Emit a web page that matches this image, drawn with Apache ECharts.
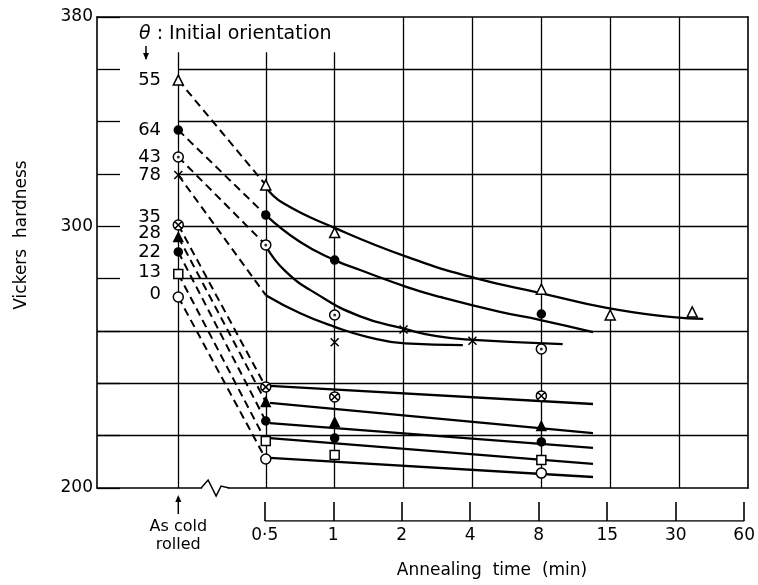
<!DOCTYPE html>
<html>
<head>
<meta charset="utf-8">
<title>Vickers hardness - annealing time</title>
<script src="https://cdn.jsdelivr.net/npm/echarts@6/dist/echarts.min.js"></script>
<style>
    html, body { margin: 0; padding: 0; background: #fff; }
    #chart { width: 758px; height: 585px; }
</style>
</head>
<body>
<div id="chart"></div>
<script>
    // x is in doubling steps of annealing time: 0.5 min -> -1, 1 -> 0, 2 -> 1 ... 60 -> 6
    var xCold = -2.27;
    var tickPos = [-1, 0, 1, 2, 3, 4, 5, 6];
    var tickLabels = ['0·5', '1', '2', '4', '8', '15', '30', '60'];
    var gridPart = [360, 340, 320, 300, 280];
    var gridFull = [260, 240, 220];
    var vShort = [xCold, -1, 0];
    var vFull = [1, 2, 3, 4, 5];

    // initial orientation of each specimen
    var orientations = ['55', '64', '43', '78', '35', '28', '22', '13', '0'];
    var coldRolled = [355.9, 336.8, 326.5, 319.6, 300.5, 295.9, 290.2, 281.8, 273.0];
    var atHalfMin = [315.8, 304.3, 292.9, 273.7, 238.6, 232.9, 225.6, 218.0, 211.1];

    // measured points after annealing [x, HV]
    var pts55 = [[-1, 315.8], [0, 297.6], [3, 276.0], [4, 266.1], [5.19, 267.3]];
    var pts64 = [[-1, 304.3], [0, 287.1], [3, 266.5]];
    var pts43 = [[-1, 292.9], [0, 266.1], [3, 253.1]];
    var pts78 = [[0, 255.7], [1, 260.6], [2, 256.3]];
    var pts35 = [[-1, 238.6], [0, 234.8], [3, 235.2]];
    var pts28 = [[-1, 232.9], [0, 225.2], [3, 223.7]];
    var pts22 = [[-1, 225.6], [0, 219.1], [3, 217.6]];
    var pts13 = [[-1, 218.0], [0, 212.6], [3, 210.7]];
    var pts0 = [[-1, 211.1], [3, 205.7]];

    // drawn-in curves
    var fit55 = [[-1, 315.0], [-0.75, 308.9], [0, 299.4], [1.05, 288.3], [2.04, 280.2], [2.99, 274.5], [3.95, 268.8], [4.91, 265.3], [5.35, 264.6]];
    var fit64 = [[-1, 304.3], [-0.5, 294.0], [0, 287.1], [0.37, 283.3], [1.05, 276.8], [1.53, 273.0], [2.4, 267.3], [2.99, 264.2], [3.75, 259.6]];
    var fit43 = [[-1, 292.5], [-0.72, 283.0], [-0.25, 274.0], [0.37, 265.6], [1.02, 260.8], [1.48, 258.0], [2.01, 256.6], [3.31, 255.0]];
    var fit78 = [[-1, 273.7], [-0.5, 266.8], [0, 261.6], [0.47, 257.8], [1.02, 255.3], [1.86, 254.6]];
    var fit35 = [[-0.94, 239.0], [3.75, 232.1]];
    var fit28 = [[-0.94, 232.5], [3.75, 221.0]];
    var fit22 = [[-0.94, 224.8], [3.75, 215.3]];
    var fit13 = [[-0.94, 219.1], [3.75, 209.2]];
    var fit0 = [[-0.94, 211.5], [3.75, 204.2]];

    var measured = [pts55, pts64, pts43, pts78, pts35, pts28, pts22, pts13, pts0];
    var fits = [fit55, fit64, fit43, fit78, fit35, fit28, fit22, fit13, fit0];

    var FONT = '"DejaVu Sans", sans-serif';
    var CROSS = 'path://M0,0L10,10M10,0L0,10';
    var OTIMES = 'path://M0,5A5,5,0,1,1,10,5A5,5,0,1,1,0,5ZM1.6,1.6L8.4,8.4M8.4,1.6L1.6,8.4';
    var markerStyle = [
        {symbol: 'triangle', size: 10, fill: '#fff'},
        {symbol: 'circle', size: 8, fill: '#000'},
        {symbol: 'circle', size: 10, fill: '#fff', dot: true},
        {symbol: CROSS, size: 8, fill: 'transparent'},
        {symbol: OTIMES, size: 10, fill: '#fff'},
        {symbol: 'triangle', size: 9, fill: '#000'},
        {symbol: 'circle', size: 8, fill: '#000'},
        {symbol: 'rect', size: 9, fill: '#fff'},
        {symbol: 'circle', size: 10, fill: '#fff'}
    ];
    var labelShift = [0, 0, 0, 0, -8, -4, 0, -2, -3];

    var chart = echarts.init(document.getElementById('chart'), null, {renderer: 'canvas'});

    var gridLines = [];
    gridPart.forEach(function (v) { gridLines.push([{coord: [xCold, v]}, {coord: [6, v]}]); });
    gridFull.forEach(function (v) { gridLines.push([{coord: [-3.45, v]}, {coord: [6, v]}]); });
    vShort.forEach(function (x) { gridLines.push([{coord: [x, 200]}, {coord: [x, 366.5]}]); });
    vFull.forEach(function (x) { gridLines.push([{coord: [x, 200]}, {coord: [x, 380]}]); });

    var series = [];
    // orientation numbers next to the as-rolled points, plus the grid
    series.push({
        type: 'scatter',
        symbolSize: 0.5,
        itemStyle: {color: '#000', opacity: 1},
        data: coldRolled.map(function (v, i) {
            return {value: [xCold, v], label: {offset: [0, labelShift[i]]}};
        }),
        label: {
            show: true, position: 'left', distance: 17,
            fontFamily: FONT, fontSize: 18, color: '#000', opacity: 1, textBorderWidth: 0,
            formatter: function (p) { return orientations[p.dataIndex]; }
        },
        markLine: {
            silent: true, symbol: ['none', 'none'], label: {show: false},
            lineStyle: {color: '#000', width: 1.3, type: 'solid', opacity: 1},
            data: gridLines
        },
        z: 1
    });

    orientations.forEach(function (o, i) {
        var st = markerStyle[i];
        series.push({
            type: 'line', symbol: 'none', silent: true,
            data: [[xCold, coldRolled[i]], [-1, atHalfMin[i]]],
            lineStyle: {color: '#000', width: 2, type: [8, 5]},
            z: 3
        });
        series.push({
            type: 'line', symbol: 'none', silent: true,
            smooth: 0.5,
            data: fits[i],
            lineStyle: {color: '#000', width: 2.3},
            z: 3
        });
        series.push({
            type: 'scatter',
            symbol: st.symbol, symbolSize: st.size,
            data: [[xCold, coldRolled[i]]].concat(measured[i]),
            itemStyle: {color: st.fill, borderColor: '#000', borderWidth: 1.5, opacity: 1},
            z: 5
        });
        if (st.dot) {
            series.push({
                type: 'scatter', symbol: 'circle', symbolSize: 3,
                data: [[xCold, coldRolled[i]]].concat(measured[i]),
                itemStyle: {color: '#000'},
                z: 6
            });
        }
    });

    // bracket under the time axis
    series.push({
        type: 'line', symbol: 'none', silent: true,
        xAxisIndex: 2, yAxisIndex: 2,
        data: [[-1, 0], [6, 0]],
        lineStyle: {color: '#000', width: 1.6}
    });

    var option = {
        animation: false,
        backgroundColor: '#fff',
        textStyle: {fontFamily: FONT},
        grid: [
            {left: 97, right: 10, top: 17, bottom: 97},
            {left: 97, right: 10, top: 502, height: 19}
        ],
        xAxis: [
            {
                gridIndex: 0, type: 'value', min: -3.45, max: 6, position: 'bottom',
                axisLine: {show: true, onZero: false, lineStyle: {color: '#000', width: 1.6}},
                axisTick: {show: false},
                splitLine: {show: false},
                axisLabel: {
                    customValues: [xCold], margin: 30,
                    formatter: function () { return 'As cold\nrolled'; },
                    color: '#000', fontSize: 16, lineHeight: 18, fontFamily: FONT
                }
            },
            {
                gridIndex: 0, type: 'value', min: -3.45, max: 6, position: 'top',
                axisLine: {show: true, onZero: false, lineStyle: {color: '#000', width: 1.6}},
                axisTick: {show: false}, axisLabel: {show: false}, splitLine: {show: false}
            },
            {
                gridIndex: 1, type: 'value', min: -3.45, max: 6, position: 'bottom',
                axisLine: {show: false, onZero: false},
                axisTick: {show: true, inside: true, length: 19, customValues: tickPos,
                    lineStyle: {color: '#000', width: 1.6}},
                splitLine: {show: false},
                axisLabel: {
                    customValues: tickPos, margin: 6, color: '#000', fontSize: 17, fontFamily: FONT,
                    formatter: function (v) {
                        var k = tickPos.indexOf(v);
                        return k >= 0 ? tickLabels[k] : '';
                    }
                }
            }
        ],
        yAxis: [
            {
                gridIndex: 0, type: 'value', min: 200, max: 380, interval: 20,
                axisLine: {show: true, onZero: false, lineStyle: {color: '#000', width: 1.6}},
                axisTick: {show: true, inside: true, length: 23, lineStyle: {color: '#000', width: 1.3}},
                splitLine: {show: false},
                axisLabel: {
                    color: '#000', fontSize: 17, fontFamily: FONT, margin: 4,
                    formatter: function (v) { return (v === 380 || v === 300 || v === 200) ? v : ''; }
                }
            },
            {
                gridIndex: 0, type: 'value', min: 200, max: 380, position: 'right',
                axisLine: {show: true, onZero: false, lineStyle: {color: '#000', width: 1.6}},
                axisTick: {show: false}, axisLabel: {show: false}, splitLine: {show: false}
            },
            {
                gridIndex: 1, type: 'value', min: 0, max: 1, show: false
            }
        ],
        series: series
    };
    chart.setOption(option);

    // axis break zigzag, arrows, heading and axis titles
    var bx = chart.convertToPixel({xAxisIndex: 0}, -1.75);
    var cx = chart.convertToPixel({xAxisIndex: 0}, xCold);
    var by = chart.convertToPixel({yAxisIndex: 0}, 200);
    chart.setOption({
        graphic: [
            {type: 'rect', z: 100, shape: {x: bx - 12, y: by - 3, width: 26, height: 6}, style: {fill: '#fff'}},
            {type: 'polyline', z: 101,
                shape: {points: [[bx - 13, by], [bx - 6, by - 8], [bx + 2, by + 8], [bx + 7, by - 2], [bx + 15, by]]},
                style: {stroke: '#000', lineWidth: 1.5, fill: null}},
            // arrow under the as-rolled line
            {type: 'line', z: 100, shape: {x1: cx, y1: by + 9, x2: cx, y2: by + 26}, style: {stroke: '#000', lineWidth: 1.5}},
            {type: 'polygon', z: 100, shape: {points: [[cx - 3, by + 14], [cx, by + 7], [cx + 3, by + 14]]}, style: {fill: '#000'}},
            {type: 'text', z: 100, left: 139, top: 25,
                style: {text: '{t|θ} : Initial orientation', fontFamily: FONT, fontSize: 19, fill: '#000',
                    rich: {t: {fontStyle: 'italic', fontSize: 19, fontFamily: FONT}}}},
            // arrow under theta
            {type: 'line', z: 100, shape: {x1: 146, y1: 46, x2: 146, y2: 59}, style: {stroke: '#000', lineWidth: 1.5}},
            {type: 'polygon', z: 100, shape: {points: [[143, 53], [146, 60], [149, 53]]}, style: {fill: '#000'}},
            {type: 'text', z: 100, x: 22, y: 235, rotation: Math.PI / 2,
                style: {text: 'Vickers  hardness', fontFamily: FONT, fontSize: 17, fill: '#000',
                    align: 'center', verticalAlign: 'middle'}},
            {type: 'text', z: 100, x: 492, y: 571,
                style: {text: 'Annealing  time  (min)', fontFamily: FONT, fontSize: 17, fill: '#000',
                    align: 'center', verticalAlign: 'middle'}}
        ]
    });
</script>
</body>
</html>
